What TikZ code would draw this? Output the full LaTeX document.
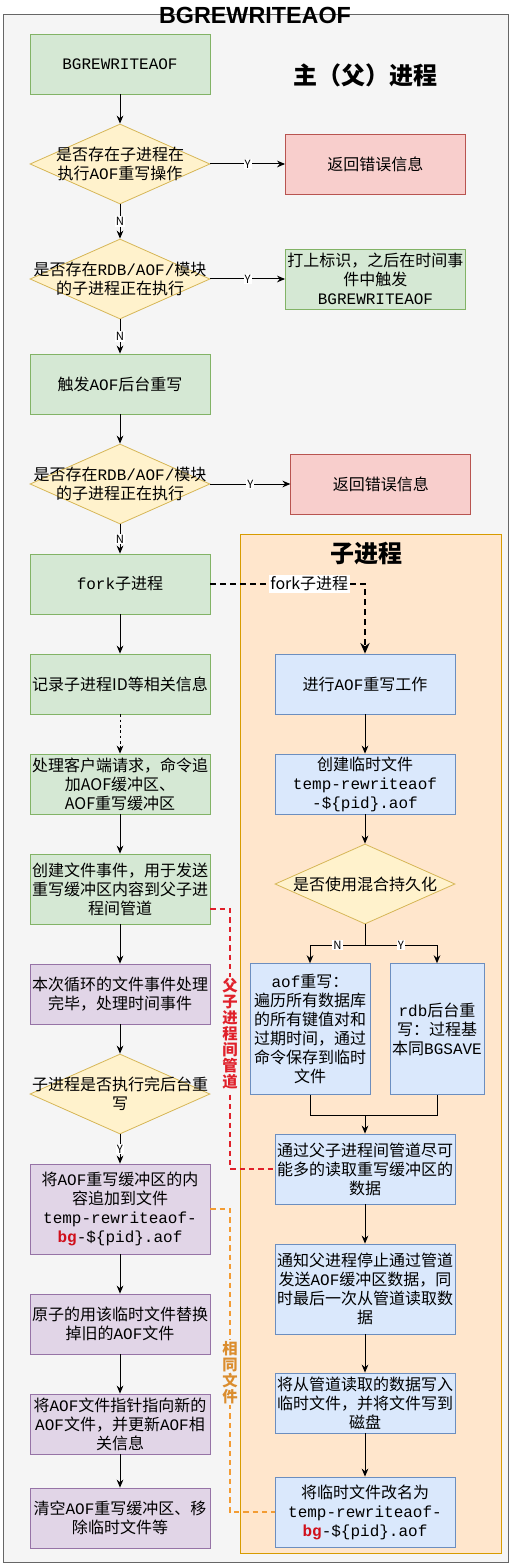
\documentclass[tikz,border=0pt]{standalone}
\usepackage{fontspec}
\setmainfont{Noto Sans CJK SC}
\setsansfont{Noto Sans CJK SC}
\setmonofont{Liberation Mono}
\newfontfamily\titlefont{Liberation Sans}
\usetikzlibrary{arrows.meta, positioning, shapes.geometric}
\definecolor{frameline}{HTML}{666666}
\definecolor{canvas}{HTML}{F5F5F5}
\definecolor{softgreen}{HTML}{D5E8D4}
\definecolor{greenline}{HTML}{82B366}
\definecolor{softyellow}{HTML}{FFF2CC}
\definecolor{yellowline}{HTML}{D6B656}
\definecolor{softred}{HTML}{F8CECC}
\definecolor{redline}{HTML}{B85450}
\definecolor{softpurple}{HTML}{E1D5E7}
\definecolor{purpleline}{HTML}{9673A6}
\definecolor{softblue}{HTML}{DAE8FC}
\definecolor{blueline}{HTML}{6C8EBF}
\definecolor{softorange}{HTML}{FFE6CC}
\definecolor{orangeline}{HTML}{D79B00}
\definecolor{pipered}{HTML}{E0202A}
\definecolor{fileorange}{HTML}{F39C33}
\definecolor{bgred}{HTML}{D0101C}
\tikzset{
  box/.style={
    rectangle, draw, line width=0.6pt,
    minimum width=135pt, minimum height=45pt, inner sep=1pt,
    align=center, font=\fontsize{12}{14.3}\selectfont
  },
  greenbox/.style={box, fill=softgreen, draw=greenline},
  redbox/.style={box, fill=softred, draw=redline},
  purplebox/.style={box, fill=softpurple, draw=purpleline},
  bluebox/.style={box, fill=softblue, draw=blueline},
  decision/.style={
    diamond, draw=yellowline, fill=softyellow, line width=0.6pt,
    minimum width=135pt, minimum height=60pt, inner sep=0pt
  },
  dtext/.style={align=center, inner sep=0pt, font=\fontsize{12}{14.3}\selectfont},
  arrow/.style={-{Stealth[length=6pt,width=5pt]}, line width=0.75pt},
  link/.style={line width=0.75pt},
  yn/.style={fill=white, inner sep=0.8pt, font=\fontsize{8.5}{9}\selectfont},
  forkarrow/.style={-{Stealth[length=8pt,width=7pt]}, line width=1.1pt, dash pattern=on 4.5pt off 3pt},
  forktag/.style={fill=white, inner sep=1pt, font=\fontsize{12}{13}\selectfont},
  pipeline/.style={line width=1.1pt, draw=pipered, dash pattern=on 4pt off 3pt},
  sameline/.style={line width=1.1pt, draw=fileorange, dash pattern=on 4pt off 3pt},
  vtag/.style={fill=canvas, inner sep=1pt, align=center, font=\bfseries\fontsize{11.5}{12}\selectfont},
  headtext/.style={font=\bfseries\fontsize{18}{20}\selectfont},
}

\begin{document}
\begin{tikzpicture}[x=0.75pt, y=-0.75pt]
  \useasboundingbox (0,0) rectangle (511,1565);

  % outer frame and child area
  \draw[draw=frameline, fill=canvas, line width=0.6pt] (3,14) rectangle (508,1562);
  \node[font=\titlefont\bfseries\fontsize{17.5}{18}\selectfont] (title) at (255,15) {BGREWRITEAOF};
  \node[headtext] (mainhead) at (365,75) {主（父）进程};
  \draw[draw=orangeline, fill=softorange, line width=0.6pt] (240,534) rectangle (501,1553);
  \node[headtext] (childhead) at (366,554) {子进程};

  % parent process
  \node[greenbox] (start) at (120,64) {\texttt{BGREWRITEAOF}};
  \node[decision, label={[dtext]center:{是否存在子进程在\\执行\texttt{AOF}重写操作}}] (d1) at (120,164) {};
  \node[redbox, right=56pt of d1] (err1) {返回错误信息};
  \node[decision, label={[dtext]center:{是否存在\texttt{RDB/AOF/}模块\\的子进程正在执行}}] (d2) at (120,279) {};
  \node[greenbox, right=56pt of d2] (mark) {打上标识，之后在时间事\\件中触发\\\texttt{BGREWRITEAOF}};
  \node[greenbox] (trig) at (120,384) {触发\texttt{AOF}后台重写};
  \node[decision, label={[dtext]center:{是否存在\texttt{RDB/AOF/}模块\\的子进程正在执行}}] (d3) at (120,484) {};
  \node[redbox, right=60pt of d3] (err2) {返回错误信息};
  \node[greenbox] (fork) at (120,584) {\texttt{fork}子进程};
  \node[greenbox] (rec) at (120,684) {记录子进程ID等相关信息};
  \node[greenbox] (cli) at (120,784) {处理客户端请求，命令追\\加AOF缓冲区、\\AOF重写缓冲区};
  \node[greenbox, minimum height=52.5pt] (fev) at (120,889) {创建文件事件，用于发送\\重写缓冲区内容到父子进\\程间管道};
  \node[purplebox] (loop) at (120,994) {本次循环的文件事件处理\\完毕，处理时间事件};
  \node[decision, label={[dtext]center:{子进程是否执行完后台重\\写}}] (d4) at (120,1094) {};
  \node[purplebox, minimum height=67.5pt] (app) at (120,1209) {将\texttt{AOF}重写缓冲区的内\\容追加到文件\\\texttt{temp-rewriteaof-}\\\texttt{\textcolor{bgred}{\bfseries bg}-\$\{pid\}.aof}};
  \node[purplebox] (atom) at (120,1324) {原子的用该临时文件替换\\掉旧的\texttt{AOF}文件};
  \node[purplebox] (ptr) at (120,1424) {将\texttt{AOF}文件指针指向新的\\\texttt{AOF}文件，并更新\texttt{AOF}相\\关信息};
  \node[purplebox] (clr) at (120,1518) {清空\texttt{AOF}重写缓冲区、移\\除临时文件等};

  % child process
  \node[bluebox] (work) at (365,684) {进行\texttt{AOF}重写工作};
  \node[bluebox] (tmp) at (365,784) {创建临时文件\\\texttt{temp-rewriteaof}\\\texttt{-\$\{pid\}.aof}};
  \node[decision, label={[dtext]center:{是否使用混合持久化}}] (d5) at (365,884) {};
  \node[bluebox, minimum width=90pt, minimum height=98pt] (aofw) at (310,1029) {\texttt{aof}重写：\\遍历所有数据库\\的所有键值对和\\过期时间，通过\\命令保存到临时\\文件};
  \node[bluebox, minimum width=70.5pt, minimum height=98pt] (rdbw) at (437,1029) {\texttt{rdb}后台重\\写：过程基\\本同\texttt{BGSAVE}};
  \node[bluebox, minimum height=52.5pt] (pipe) at (365,1169) {通过父子进程间管道尽可\\能多的读取重写缓冲区的\\数据};
  \node[bluebox, minimum height=67.5pt] (stop) at (365,1289) {通知父进程停止通过管道\\发送\texttt{AOF}缓冲区数据，同\\时最后一次从管道读取数\\据};
  \node[bluebox] (wrt) at (365,1403) {将从管道读取的数据写入\\临时文件，并将文件写到\\磁盘};
  \node[bluebox, minimum height=52.5pt] (ren) at (365,1512) {将临时文件改名为\\\texttt{temp-rewriteaof-}\\\texttt{\textcolor{bgred}{\bfseries bg}-\$\{pid\}.aof}};

  \coordinate (split) at (365,945);
  \coordinate (join) at (365,1115);
  \coordinate (redturn) at (230,909);
  \coordinate (orangeturn) at (230,1209);

  % parent flow
  \draw[arrow] (start) -- (d1);
  \draw[arrow] (d1) -- node[yn] {Y} (err1);
  \draw[arrow] (d1) -- node[yn] {N} (d2);
  \draw[arrow] (d2) -- node[yn] {Y} (mark);
  \draw[arrow] (d2) -- node[yn] {N} (trig);
  \draw[arrow] (trig) -- (d3);
  \draw[arrow] (d3) -- node[yn] {Y} (err2);
  \draw[arrow] (d3) -- node[yn] {N} (fork);
  \draw[arrow] (fork) -- (rec);
  \draw[arrow, dash pattern=on 2pt off 2pt] (rec) -- (cli);
  \draw[arrow] (cli) -- (fev);
  \draw[arrow] (fev) -- (loop);
  \draw[arrow] (loop) -- (d4);
  \draw[arrow] (d4) -- node[yn] {Y} (app);
  \draw[arrow] (app) -- (atom);
  \draw[arrow] (atom) -- (ptr);
  \draw[arrow] (ptr) -- (clr);

  % fork into child
  \draw[forkarrow] (fork) -| node[forktag, pos=.32] {fork子进程} (work);

  % child flow
  \draw[arrow] (work) -- (tmp);
  \draw[arrow] (tmp) -- (d5);
  \draw[link] (d5) -- (split);
  \draw[arrow] (split) -| node[yn, pos=.25] {N} (aofw);
  \draw[arrow] (split) -| node[yn, pos=.25] {Y} (rdbw);
  \draw[link] (aofw) |- (join) -| (rdbw);
  \draw[arrow] (join) -- (pipe);
  \draw[arrow] (pipe) -- (stop);
  \draw[arrow] (stop) -- (wrt);
  \draw[arrow] (wrt) -- (ren);

  % shared pipe and shared file
  \draw[pipeline] ([yshift=-15pt]fev.east) -- (redturn) |- node[vtag, text=pipered, pos=.24] {父\\子\\进\\程\\间\\管\\道} (pipe.west);
  \draw[sameline] (app.east) -- (orangeturn) |- node[vtag, text=fileorange!90!black, pos=.27] {相\\同\\文\\件} (ren.west);
\end{tikzpicture}
\end{document}
